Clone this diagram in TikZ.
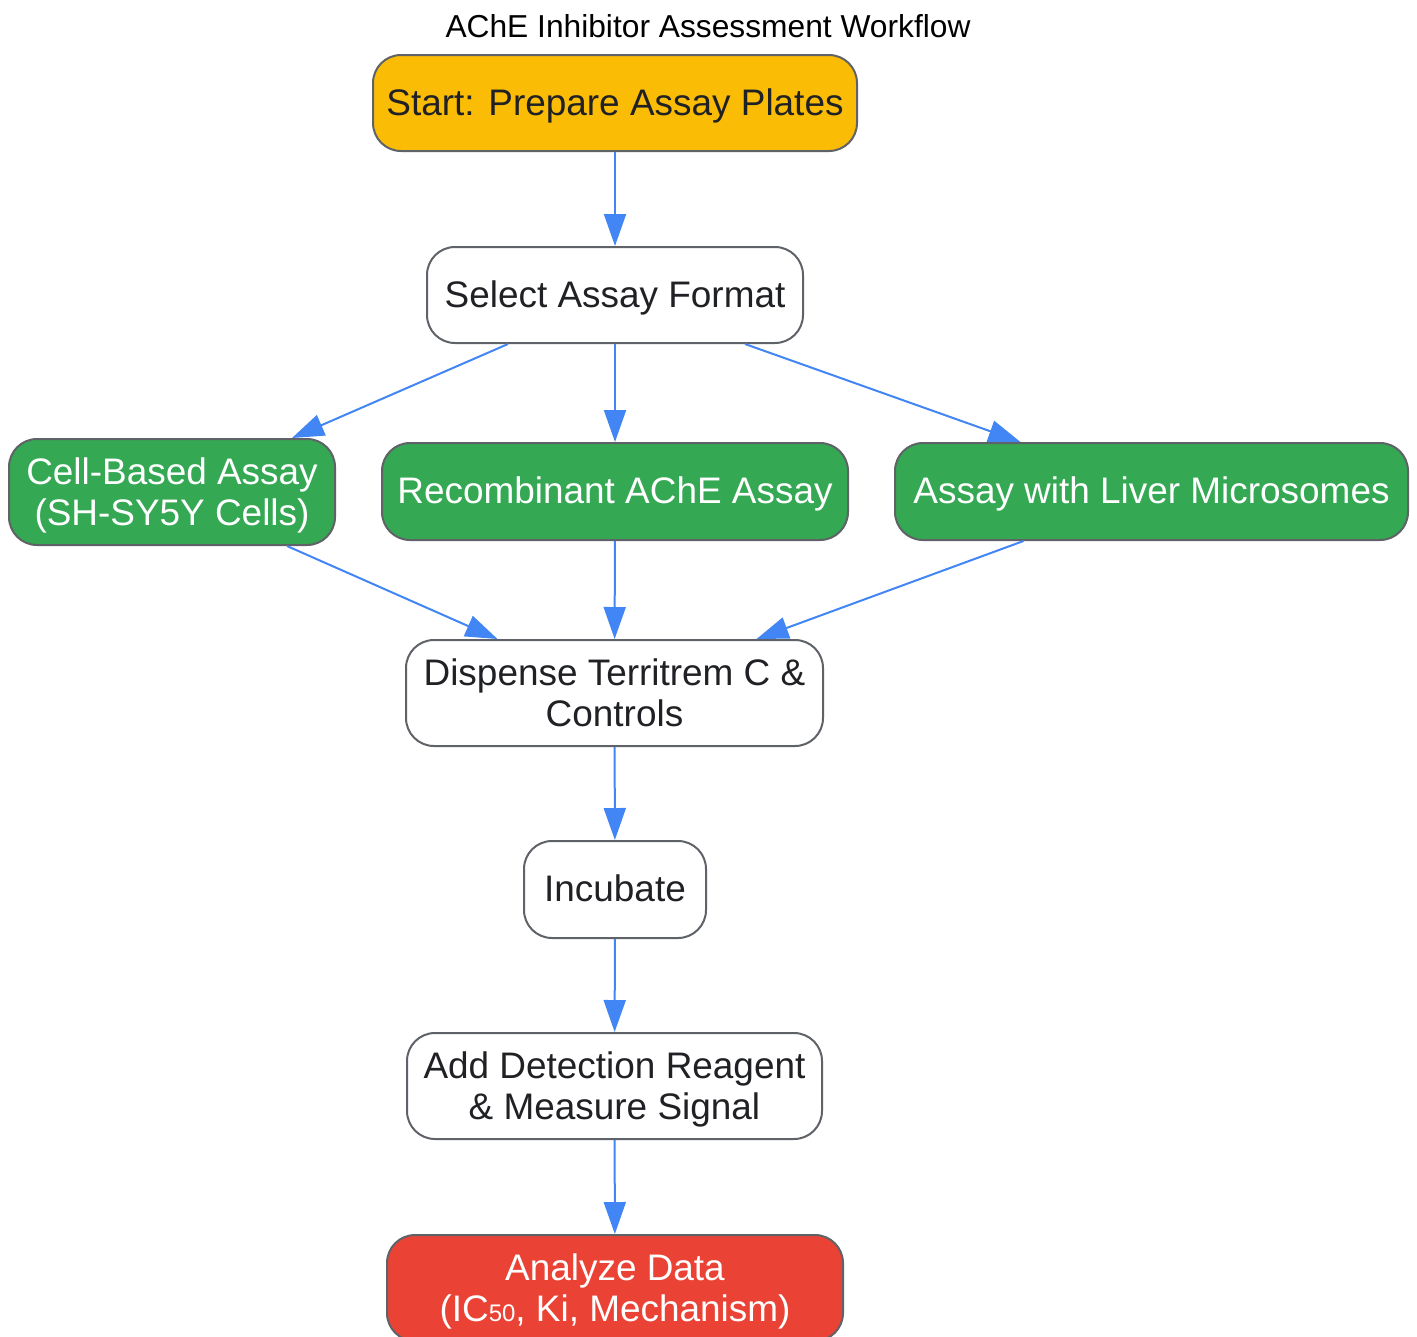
\documentclass[tikz,border=0pt]{standalone}
\usepackage{fontspec}
\setmainfont{Liberation Sans}
\usetikzlibrary{arrows.meta}
\definecolor{startyel}{HTML}{FBBC05}
\definecolor{stepgreen}{HTML}{34A853}
\definecolor{endred}{HTML}{EA4335}
\definecolor{flowblue}{HTML}{4285F4}
\definecolor{edgegray}{HTML}{5F6368}
\definecolor{txtdark}{HTML}{202124}

\begin{document}
\begin{tikzpicture}[x=0.75pt,y=-0.75pt,
  stepbox/.style={draw=edgegray,line width=1.5pt,rounded corners=21pt,fill=white,
    text=txtdark,align=center,inner sep=0pt,font=\fontsize{27.7}{30.75}\selectfont,
    execute at begin node={\rule{0pt}{27.8pt}},
    execute at end node={\rule[-9.5pt]{0pt}{0pt}}},
  twoline/.style={execute at begin node={\rule{0pt}{60pt}}},
  greenbox/.style={stepbox,fill=stepgreen,text=white},
  flow/.style={draw=flowblue,line width=1.5pt,-{Triangle[length=24pt,width=16.5pt]}}]
\useasboundingbox (0,0) rectangle (1417,1336);
% title
\node (title) at (708,26) {\fontsize{23.8}{28}\selectfont AChE Inhibitor Assessment Workflow};
% steps
\node[stepbox,fill=startyel,minimum width=363pt,minimum height=72pt] (start) at (615,103) {Start: Prepare Assay Plates};
\node[stepbox,minimum width=282pt,minimum height=72pt] (sel) at (615,295) {Select Assay Format};
\node[greenbox,twoline,minimum width=244.5pt,minimum height=79.5pt] (cell) at (172,492) {Cell-Based Assay\\(SH-SY5Y Cells)};
\node[greenbox,minimum width=349.5pt,minimum height=72.75pt] (rec) at (615,491.5) {Recombinant AChE Assay};
\node[greenbox,minimum width=384.75pt,minimum height=72.75pt] (liv) at (1151.5,491.5) {Assay with Liver Microsomes};
\node[stepbox,twoline,minimum width=312.75pt,minimum height=79.5pt] (disp) at (614.5,693) {Dispense Territrem C \&\\Controls};
\node[stepbox,minimum width=136.5pt,minimum height=72.75pt] (inc) at (615,889.5) {Incubate};
\node[stepbox,twoline,minimum width=311.25pt,minimum height=79.5pt] (add) at (614.5,1086) {Add Detection Reagent\\\& Measure Signal};
\node[stepbox,twoline,fill=endred,text=white,minimum width=342pt,minimum height=79.5pt] (ana) at (615,1288) {Analyze Data\\(IC{\fontsize{18}{18}\selectfont 50}, Ki, Mechanism)};
% arrows
\draw[flow] (start) -- (sel);
\draw[flow] ([xshift=-80.25pt]sel.south) -- ([xshift=90pt]cell.north);
\draw[flow] (sel) -- (rec);
\draw[flow] ([xshift=97.5pt]sel.south) -- ([xshift=-98.25pt]liv.north);
\draw[flow] ([xshift=86.25pt]cell.south) -- ([xshift=-87.75pt]disp.north);
\draw[flow] (rec) -- (disp);
\draw[flow] ([xshift=-96pt]liv.south) -- ([xshift=106.5pt]disp.north);
\draw[flow] (disp) -- (inc);
\draw[flow] (inc) -- (add);
\draw[flow] (add) -- (ana);
\end{tikzpicture}
\end{document}
